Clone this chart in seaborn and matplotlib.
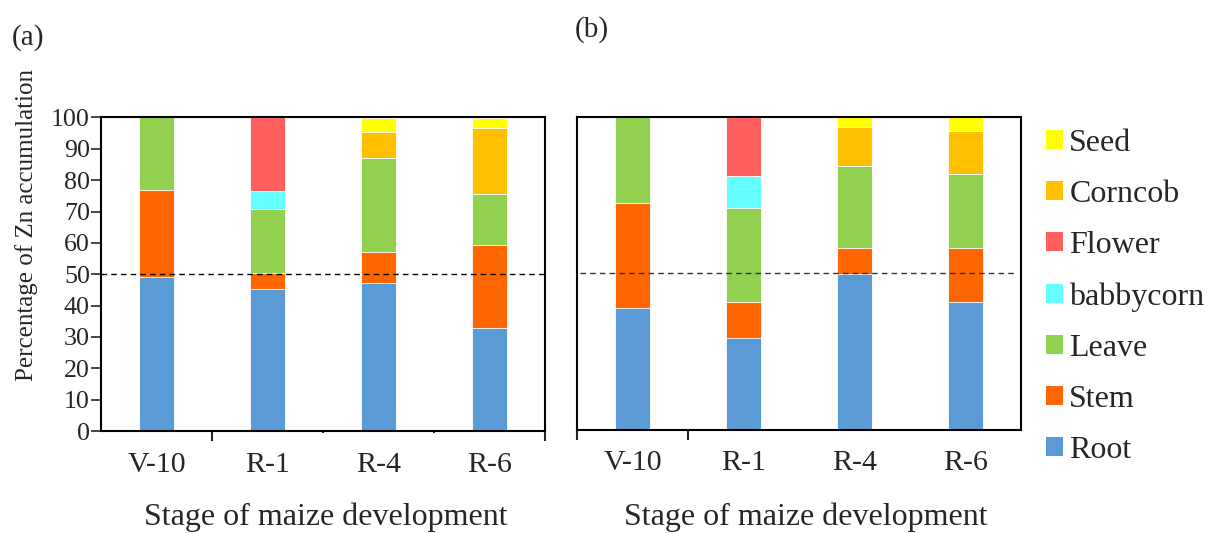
import numpy as np
import pandas as pd
import matplotlib
matplotlib.use("Agg")
import matplotlib.pyplot as plt
from matplotlib.patches import Patch
import seaborn as sns

# ---------------- data ----------------
stages = ["V-10", "R-1", "R-4", "R-6"]
parts = ["Root", "Stem", "Leave", "babbycorn", "Flower", "Corncob", "Seed"]
colors = ["#5B9BD5", "#FF6600", "#92D050", "#66FFFF", "#FF5F5F", "#FFC000", "#FFFF00"]

# panel (a)
a_root = [49.0, 45.2, 47.1, 32.7]
a_stem = [28.0, 5.3, 9.9, 26.5]
a_leave = [23.0, 20.3, 30.1, 16.4]
a_babbycorn = [0.0, 5.7, 0.0, 0.0]
a_flower = [0.0, 23.5, 0.0, 0.0]
a_corncob = [0.0, 0.0, 8.3, 21.1]
a_seed = [0.0, 0.0, 4.6, 3.3]

# panel (b)
b_root = [39.0, 29.4, 49.9, 40.9]
b_stem = [33.5, 11.5, 8.2, 17.2]
b_leave = [27.5, 30.0, 26.3, 23.7]
b_babbycorn = [0.0, 10.1, 0.0, 0.0]
b_flower = [0.0, 19.0, 0.0, 0.0]
b_corncob = [0.0, 0.0, 12.4, 13.7]
b_seed = [0.0, 0.0, 3.2, 4.5]

y_ticks = [0, 10, 20, 30, 40, 50, 60, 70, 80, 90, 100]
ref_line = 50
x_label = "Stage of maize development"
y_label = "Percentage of Zn accumulation"

# ---------------- style ----------------
sns.set_theme(style="white")
plt.rcParams["font.family"] = ["Liberation Serif", "DejaVu Serif"]
plt.rcParams["axes.edgecolor"] = "black"
plt.rcParams["axes.linewidth"] = 1.5

W, H = 1207, 533
fig = plt.figure(figsize=(W / 100, H / 100), dpi=100)
ax1 = fig.add_axes([101 / W, 102 / H, 444 / W, 313.5 / H])
ax2 = fig.add_axes([577 / W, 103.5 / H, 444 / W, 312.5 / H])


def draw_panel(ax, layers, line_color, line_span):
    df = pd.DataFrame(np.array(layers).T, columns=parts)
    df["stage"] = stages
    cum = df[parts].cumsum(axis=1)
    # draw from top layer down so lower layers cover the upper ones
    for part, col in zip(parts[::-1], colors[::-1]):
        sub = pd.DataFrame({"stage": stages, "val": cum[part].values})
        sns.barplot(data=sub, x="stage", y="val", order=stages, color=col,
                    width=0.31, errorbar=None, saturation=1, ax=ax,
                    edgecolor="white", linewidth=0.6)
    ax.set_xlim(-0.5, 3.5)
    ax.set_ylim(0, 100)
    ax.axhline(ref_line, xmin=line_span[0], xmax=line_span[1], color=line_color,
               linestyle=(0, (4, 3)), linewidth=1.0, zorder=5)
    ax.set_xlabel("")
    ax.set_ylabel("")
    ax.tick_params(axis="x", which="major", length=0, labelsize=21.5, pad=15)
    for s in ax.spines.values():
        s.set_visible(True)
        s.set_linewidth(1.5)
        s.set_color("black")


draw_panel(ax1, [a_root, a_stem, a_leave, a_babbycorn, a_flower, a_corncob, a_seed],
           "black", (0, 1))
draw_panel(ax2, [b_root, b_stem, b_leave, b_babbycorn, b_flower, b_corncob, b_seed],
           "#333333", (0.007, 0.992))

# y axis
ax1.set_yticks(y_ticks)
ax1.tick_params(axis="y", which="major", length=7, width=1.2, direction="out",
                labelsize=18.7, pad=1, left=True)
ax2.set_yticks(y_ticks)
ax2.tick_params(axis="y", which="both", length=0, labelleft=False)

# category boundary ticks
ax1.set_xticks([0.5, 1.5, 2.5, 3.5], minor=True)
ax1.tick_params(axis="x", which="minor", direction="out", width=1.5, bottom=True)
for t, ln in zip(ax1.xaxis.get_minor_ticks(), [7, 1.5, 1.5, 7]):
    t.tick1line.set_markersize(ln)
ax2.set_xticks([-0.5, 0.5], minor=True)
ax2.tick_params(axis="x", which="minor", direction="out", width=1.5, length=7,
                bottom=True)

# texts
fig.text(12 / W, 1 - 38 / H, "(a)", fontsize=21, va="center", ha="left")
fig.text(575 / W, 1 - 30 / H, "(b)", fontsize=21, va="center", ha="left")
fig.text(27 / W, 1 - 225 / H, y_label, fontsize=18, rotation=90,
         va="center", ha="center")
fig.text(326 / W, 1 - 525 / H, x_label, fontsize=23, va="baseline", ha="center")
fig.text(806 / W, 1 - 525 / H, x_label, fontsize=23, va="baseline", ha="center")

# legend
handles = [Patch(facecolor=c, edgecolor="none") for c in colors[::-1]]
fig.legend(handles, parts[::-1], loc="upper left",
           bbox_to_anchor=(1046 / W, 1 - 129 / H), frameon=False,
           fontsize=23, borderpad=0, borderaxespad=0, handlelength=0.53,
           handleheight=0.53, handletextpad=0.2, labelspacing=0.69)

fig.savefig("out.png", dpi=100)
